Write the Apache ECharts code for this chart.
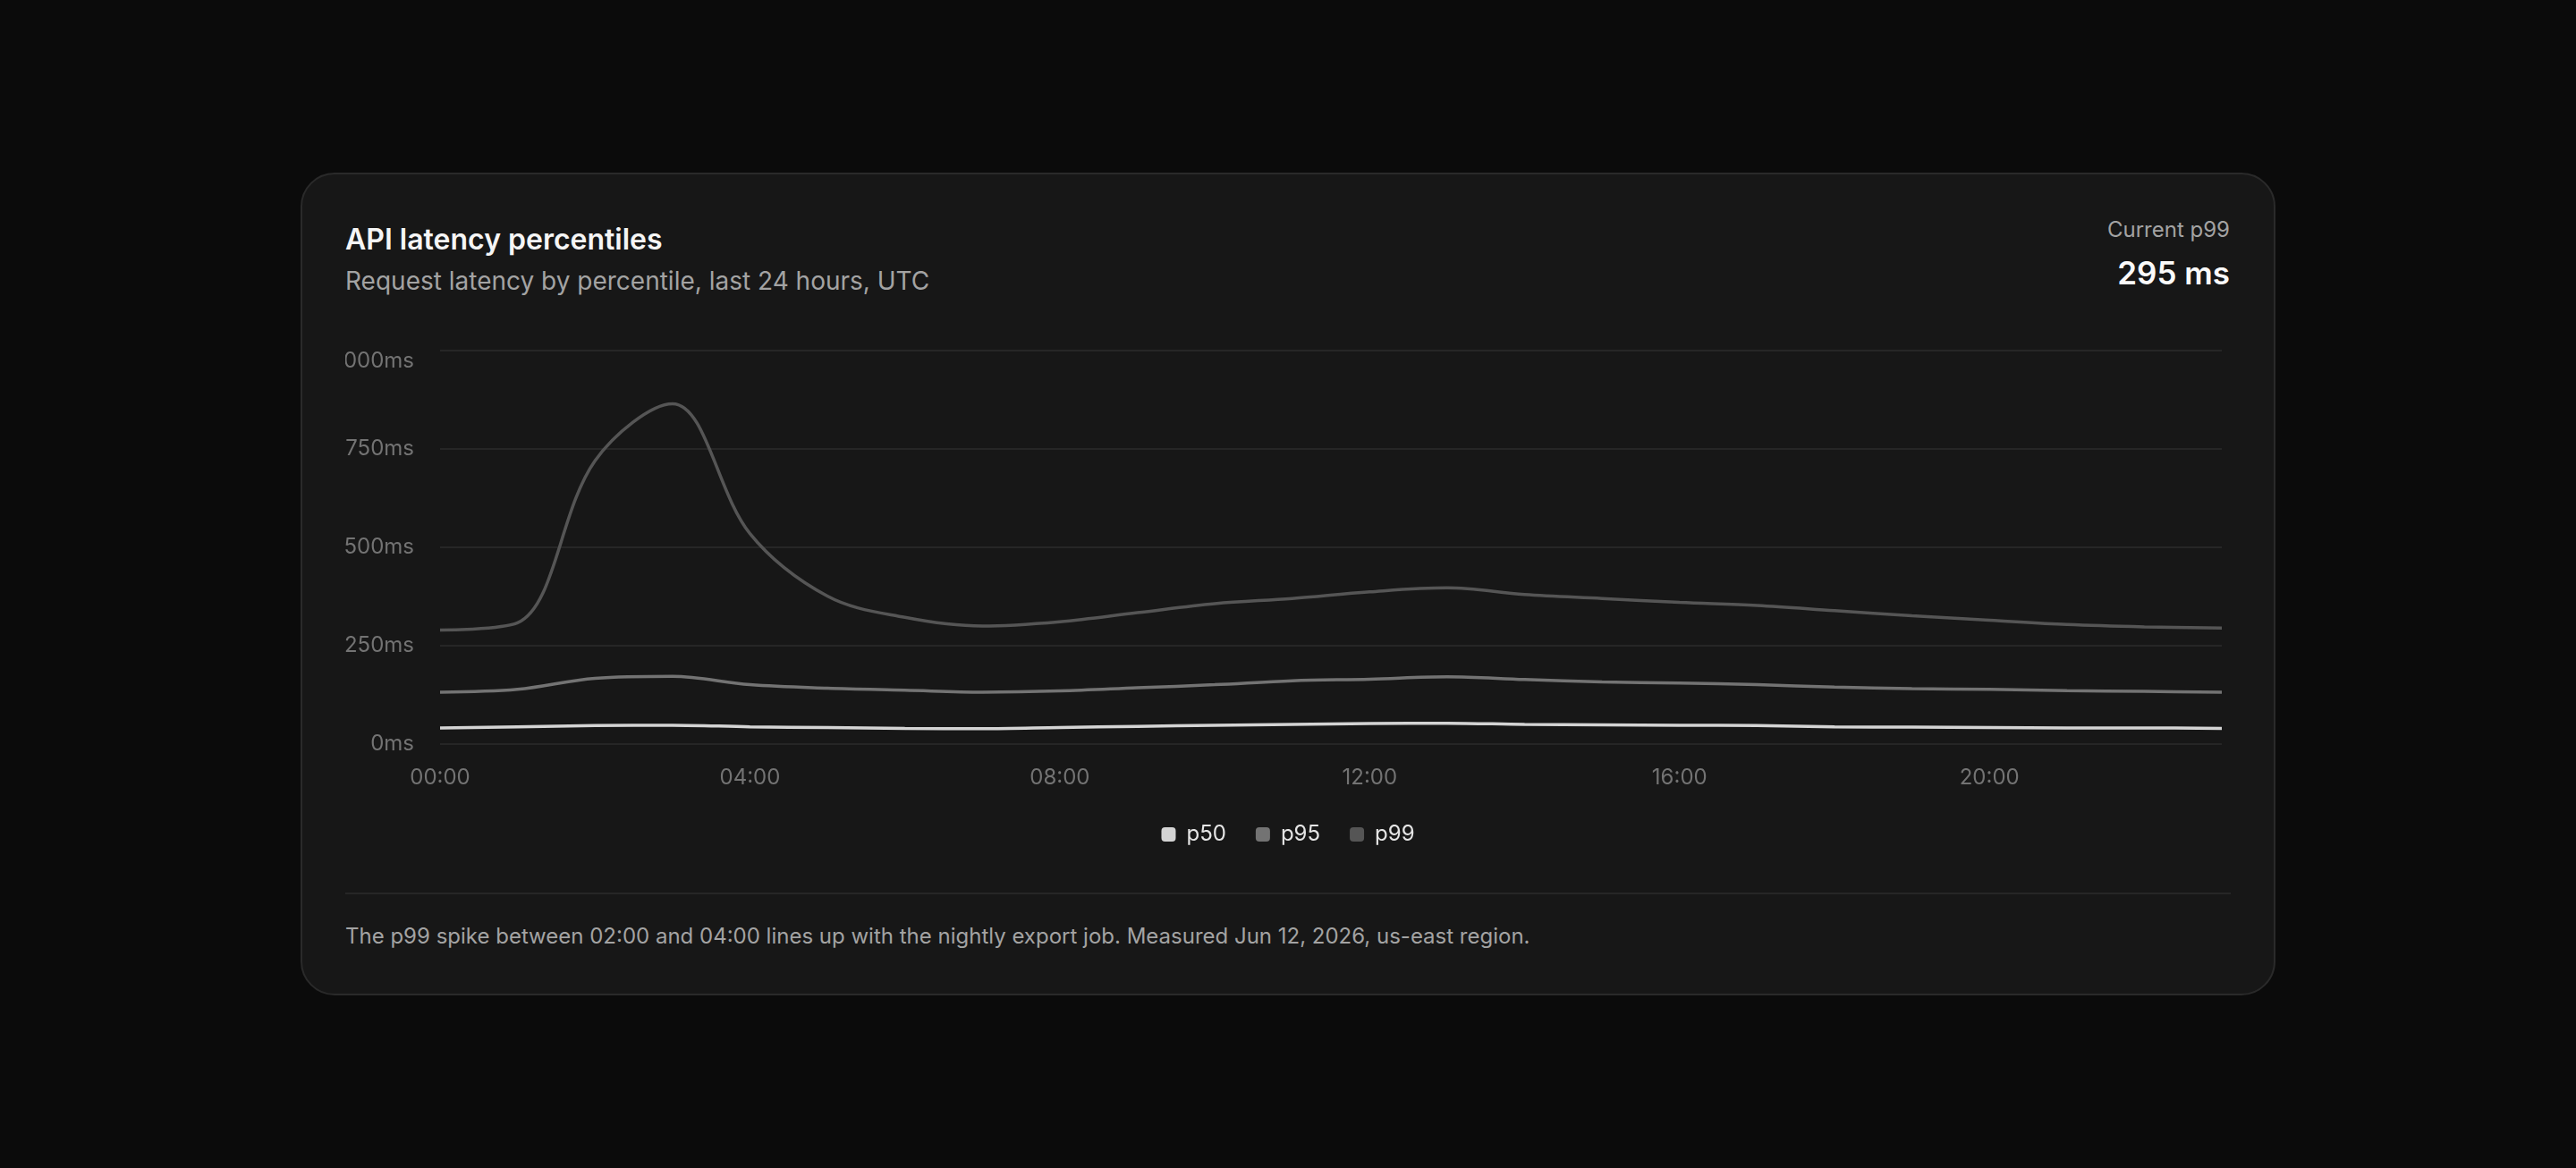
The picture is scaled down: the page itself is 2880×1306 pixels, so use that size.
<!DOCTYPE html>
<html>
<head>
<meta charset="utf-8">
<title>API latency percentiles</title>
<script src="https://cdn.jsdelivr.net/npm/echarts@6/dist/echarts.min.js"></script>
<style>
  html, body { margin: 0; height: 100%; background: #0b0b0b; font-family: Inter, "Noto Sans", sans-serif; }
  .card {
    position: absolute; left: 336px; top: 193px; width: 2208px; height: 920px;
    box-sizing: border-box; border: 2px solid #2a2a2a; border-radius: 38px; background: #171717;
  }
  .title { position: absolute; left: 48px; top: 55px; font-size: 32px; line-height: 36px; font-weight: 600; color: #f5f5f5; }
  .subtitle { position: absolute; left: 48px; top: 103px; font-size: 28px; line-height: 32px; color: #a3a3a3; }
  .stat-label { position: absolute; right: 49px; top: 47px; font-size: 24px; line-height: 30px; color: #a3a3a3; text-align: right; }
  .stat-value { position: absolute; right: 49px; top: 88px; font-size: 35px; line-height: 44px; font-weight: 600; color: #fafafa; text-align: right; }
  #chart { position: absolute; left: 48px; top: 155px; width: 2108px; height: 630px; }
  .divider { position: absolute; left: 48px; right: 48px; top: 803px; height: 2px; background: #262626; }
  .note { position: absolute; left: 48px; top: 837px; font-size: 24px; line-height: 30px; color: #a3a3a3; }
</style>
</head>
<body>
<div class="card">
  <div class="title">API latency percentiles</div>
  <div class="subtitle">Request latency by percentile, last 24 hours, UTC</div>
  <div class="stat-label">Current p99</div>
  <div class="stat-value">295 ms</div>
  <div id="chart"></div>
  <div class="divider"></div>
  <div class="note">The p99 spike between 02:00 and 04:00 lines up with the nightly export job. Measured Jun 12, 2026, us-east region.</div>
</div>
<script>
const hours = ['00:00', '01:00', '02:00', '03:00', '04:00', '05:00', '06:00', '07:00',
  '08:00', '09:00', '10:00', '11:00', '12:00', '13:00', '14:00', '15:00',
  '16:00', '17:00', '18:00', '19:00', '20:00', '21:00', '22:00', '23:00'];

const p50 = [41, 44, 47, 48, 44, 42, 40, 39, 42, 45, 48, 50, 52, 53, 50, 49, 48, 47, 44, 43, 42, 41, 41, 40];
const p95 = [132, 139, 167, 172, 151, 142, 137, 132, 135, 143, 151, 161, 165, 171, 164, 158, 155, 151, 145, 141, 139, 136, 134, 132];
const p99 = [290, 308, 720, 865, 535, 376, 322, 300, 311, 334, 357, 370, 387, 397, 380, 370, 360, 352, 339, 326, 315, 304, 298, 295];

const seriesNames = ['p50', 'p95', 'p99'];
const seriesColors = ['#d4d4d4', '#737373', '#555555'];

const chart = echarts.init(document.getElementById('chart'));

const axisText = { color: '#737373', fontSize: 24, fontFamily: 'Inter' };

chart.setOption({
  backgroundColor: 'transparent',
  animation: false,
  grid: { left: 106, right: 10, top: 42, bottom: 148, outerBoundsMode: 'none' },
  legend: {
    top: 566,
    left: 'center',
    icon: 'roundRect',
    itemWidth: 16,
    itemHeight: 16,
    itemGap: 33,
    data: seriesNames,
    textStyle: { color: '#e5e5e5', fontSize: 24, fontFamily: 'Inter', padding: [0, 0, 0, 7] }
  },
  xAxis: {
    type: 'category',
    data: hours,
    boundaryGap: false,
    axisLine: { show: false },
    axisTick: { show: false },
    axisLabel: { ...axisText, interval: 3, margin: 26 },
    splitLine: { show: false }
  },
  yAxis: {
    type: 'value',
    min: 0,
    max: 1000,
    interval: 250,
    axisLine: { show: false },
    axisTick: { show: false },
    axisLabel: {
      ...axisText,
      margin: 29,
      verticalAlignMaxLabel: 'top',
      formatter: v => v + 'ms'
    },
    splitLine: { lineStyle: { color: '#262626', width: 2 } }
  },
  series: [p50, p95, p99].map((data, i) => ({
    name: seriesNames[i],
    type: 'line',
    data,
    smooth: 0.35,
    showSymbol: false,
    lineStyle: { color: seriesColors[i], width: 3.5 },
    itemStyle: { color: seriesColors[i] },
    z: 3 - i
  }))
});
</script>
</body>
</html>
